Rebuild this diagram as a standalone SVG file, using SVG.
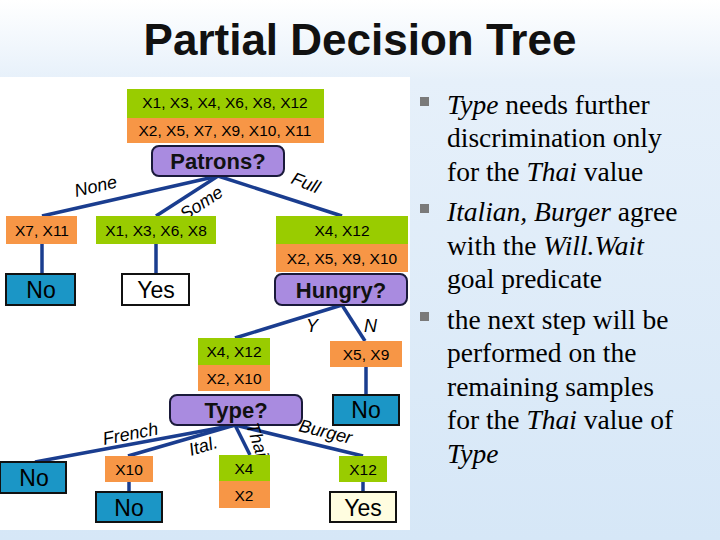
<svg xmlns="http://www.w3.org/2000/svg" width="720" height="540" viewBox="0 0 720 540">
<defs>
<linearGradient id="bg" x1="0" y1="0" x2="0" y2="1"><stop offset="0" stop-color="#ffffff"/><stop offset="0.15" stop-color="#e6f0fa"/><stop offset="1" stop-color="#d6e7f7"/></linearGradient>
</defs>
<style>
.g{fill:#99cc00}.o{fill:#f79646}
.p{fill:#a98be0;stroke:#1a1a3a;stroke-width:2}
.b{fill:#1b96c6;stroke:#111;stroke-width:2}
.w{fill:#fff;stroke:#111;stroke-width:2}
.y{fill:#fffde0;stroke:#111;stroke-width:2}
.s{font-family:"Liberation Sans",Arial,sans-serif;font-size:15.5px;fill:#000;text-anchor:middle}
.q{font-family:"Liberation Sans",Arial,sans-serif;font-size:22px;font-weight:bold;fill:#111;text-anchor:middle}
.l{font-family:"Liberation Sans",Arial,sans-serif;font-size:23px;fill:#000;text-anchor:middle}
.e{font-family:"Liberation Sans",Arial,sans-serif;font-size:18px;font-style:italic;fill:#000}
.r{font-family:"Liberation Serif","Times New Roman",serif;font-size:27.5px;fill:#000}
line{stroke:#1a3d8f;stroke-width:3.5}
</style>
<rect width="720" height="540" fill="url(#bg)"/>
<rect x="0" y="77" width="410" height="453" fill="#fff"/>
<text x="360" y="55" text-anchor="middle" font-family="Liberation Sans,Arial,sans-serif" font-size="44" font-weight="bold" fill="#111">Partial Decision Tree</text>
<g id="connectors">
<line x1="218" y1="176" x2="42" y2="216"/><line x1="218" y1="176" x2="156" y2="216"/><line x1="218" y1="176" x2="342" y2="216"/>
<line x1="42" y1="244" x2="42" y2="273"/><line x1="156" y1="244" x2="156" y2="273"/>
<line x1="342" y1="305" x2="235" y2="338"/><line x1="342" y1="305" x2="365" y2="341"/>
<line x1="366" y1="367" x2="366" y2="395"/>
<line x1="235" y1="425" x2="35" y2="462"/><line x1="235" y1="425" x2="128" y2="456"/><line x1="235" y1="425" x2="250" y2="455"/><line x1="235" y1="425" x2="363" y2="456"/>
<line x1="129" y1="482" x2="129" y2="492"/><line x1="363" y1="482" x2="363" y2="492"/>
</g>
<g id="root"><rect class="g" x="127" y="89" width="197" height="29"/><rect class="o" x="127" y="118" width="197" height="25"/>
<text class="s" x="225" y="108">X1, X3, X4, X6, X8, X12</text><text class="s" x="225" y="136">X2, X5, X7, X9, X10, X11</text></g>
<g id="patrons"><rect class="p" x="152" y="146" width="132" height="30" rx="7"/><text class="q" x="218" y="169">Patrons?</text></g>
<text class="e" transform="translate(76,197) rotate(-13)">None</text>
<text class="e" transform="translate(185,221) rotate(-33)">Some</text>
<text class="e" transform="translate(290,183) rotate(22)">Full</text>
<g id="n711"><rect class="o" x="6" y="216" width="71" height="28"/><text class="s" x="42" y="236">X7, X11</text></g>
<g id="n1368"><rect class="g" x="96" y="216" width="120" height="28"/><text class="s" x="156" y="236">X1, X3, X6, X8</text></g>
<g id="nfull"><rect class="g" x="276" y="216" width="132" height="28"/><rect class="o" x="276" y="244" width="132" height="28"/>
<text class="s" x="342" y="236">X4, X12</text><text class="s" x="342" y="264">X2, X5, X9, X10</text></g>
<g id="no1"><rect class="b" x="6" y="274" width="69" height="31"/><text class="l" x="41" y="298">No</text></g>
<g id="yes1"><rect class="w" x="122" y="274" width="67" height="31"/><text class="l" x="156" y="298">Yes</text></g>
<g id="hungry"><rect class="p" x="275" y="274" width="132" height="31" rx="7"/><text class="q" x="341" y="298">Hungry?</text></g>
<text class="e" x="306" y="332">Y</text><text class="e" x="364" y="332">N</text>
<g id="ny"><rect class="g" x="198" y="338" width="72" height="27"/><rect class="o" x="198" y="365" width="72" height="26"/>
<text class="s" x="234" y="357">X4, X12</text><text class="s" x="234" y="384">X2, X10</text></g>
<g id="nn"><rect class="o" x="330" y="341" width="72" height="26"/><text class="s" x="366" y="360">X5, X9</text></g>
<g id="no2"><rect class="b" x="333" y="395" width="66" height="30"/><text class="l" x="366" y="418">No</text></g>
<g id="type"><rect class="p" x="170" y="395" width="132" height="30" rx="7"/><text class="q" x="236" y="418">Type?</text></g>
<text class="e" transform="translate(104,445) rotate(-11)">French</text>
<text class="e" transform="translate(191,456) rotate(-17)">Ital.</text>
<text class="e" transform="translate(246,425) rotate(72)">Thai</text>
<text class="e" transform="translate(298,431) rotate(14)">Burger</text>
<g id="no3"><rect class="b" x="0" y="462" width="66" height="31"/><text class="l" x="34" y="486">No</text></g>
<g id="n10"><rect class="o" x="105" y="456" width="48" height="26"/><text class="s" x="129" y="475">X10</text></g>
<g id="no4"><rect class="b" x="96" y="492" width="66" height="30"/><text class="l" x="129" y="516">No</text></g>
<g id="nthai"><rect class="g" x="219" y="455" width="51" height="26"/><rect class="o" x="219" y="481" width="51" height="27"/>
<text class="s" x="244" y="474">X4</text><text class="s" x="244" y="501">X2</text></g>
<g id="n12"><rect class="g" x="339" y="456" width="48" height="26"/><text class="s" x="363" y="475">X12</text></g>
<g id="yes2"><rect class="y" x="330" y="492" width="66" height="30"/><text class="l" x="363" y="516">Yes</text></g>
<g id="bullets" class="r">
<rect x="420" y="97" width="9" height="9" fill="#7a7a7a"/><rect x="420" y="204" width="9" height="9" fill="#7a7a7a"/><rect x="420" y="312" width="9" height="9" fill="#7a7a7a"/>
<text x="447" y="114"><tspan font-style="italic">Type</tspan> needs further</text>
<text x="447" y="147">discrimination only</text>
<text x="447" y="181">for the <tspan font-style="italic">Thai</tspan> value</text>
<text x="447" y="221" font-style="italic">Italian, Burger <tspan font-style="normal">agree</tspan></text>
<text x="447" y="255">with the <tspan font-style="italic">Will.Wait</tspan></text>
<text x="447" y="288">goal predicate</text>
<text x="447" y="329">the next step will be</text>
<text x="447" y="362">performed on the</text>
<text x="447" y="396">remaining samples</text>
<text x="447" y="429">for the <tspan font-style="italic">Thai</tspan> value of</text>
<text x="447" y="463" font-style="italic">Type</text>
</g>
</svg>
